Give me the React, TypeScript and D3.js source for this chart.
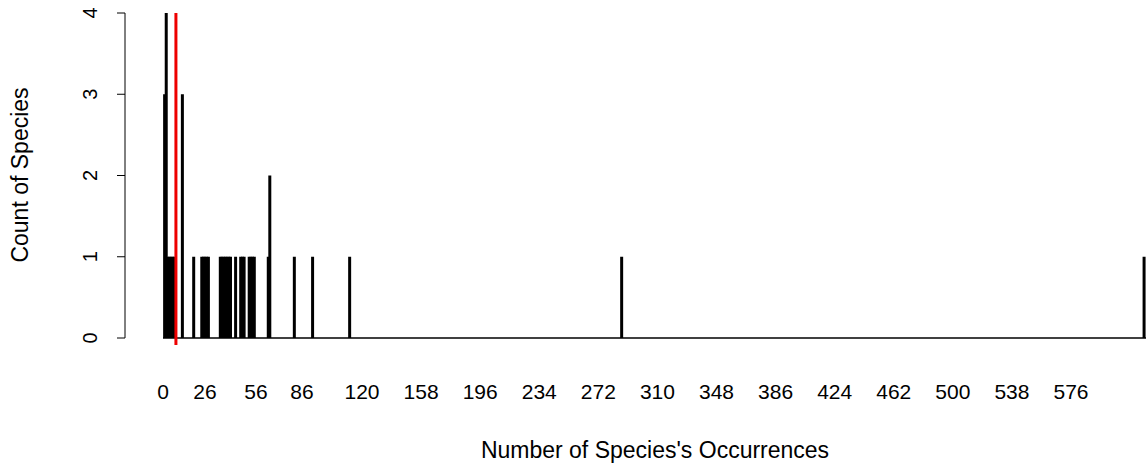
import * as d3 from "d3";

// occurrence value -> count of species
const occurrences = [1, 2, 3, 4, 5, 6, 7, 12, 19, 24, 25, 26, 27, 28, 35, 36, 37, 38, 39, 40, 41, 44, 47, 48, 49, 52, 53, 54, 55, 64, 65, 81, 92, 113, 287, 623];
const counts = [3, 4, 1, 1, 1, 1, 1, 3, 1, 1, 1, 1, 1, 1, 1, 1, 1, 1, 1, 1, 1, 1, 1, 1, 1, 1, 1, 1, 1, 1, 2, 1, 1, 1, 1, 1];
const tickLabels = [0, 26, 56, 86, 120, 158, 196, 234, 272, 310, 348, 386, 424, 462, 500, 538, 576];
const yTicks = [0, 1, 2, 3, 4];
const meanLine = 8;

const W = 1146;
const H = 465;

export default function App() {
  // axis is categorical in the original, so map with a piecewise scale
  const x = d3.scaleLinear().domain([0, 26, 56, 86, 120, 576]).range([163, 205, 256, 302, 362, 1071]);
  const y = d3.scaleLinear().domain([0, 4]).range([338, 13]);
  const font = "Liberation Sans, Arial, sans-serif";

  return (
    <svg width={W} height={H} style={{ position: "absolute", left: 0, top: 0, background: "#fff" }}>
      <line x1={x(0)} x2={W} y1={y(0)} y2={y(0)} stroke="#000" strokeWidth={1.5} />
      {occurrences.map((v, i) => (
        <line key={i} x1={x(v)} x2={x(v)} y1={y(0)} y2={y(counts[i])} stroke="#000" strokeWidth={3} />
      ))}
      <line x1={x(meanLine)} x2={x(meanLine)} y1={y(4)} y2={y(0) + 7} stroke="#e00" strokeWidth={3} />
      {/* y axis */}
      <line x1={125} x2={125} y1={y(0)} y2={y(4)} stroke="#000" />
      {yTicks.map((t) => (
        <g key={t}>
          <line x1={117} x2={125} y1={y(t)} y2={y(t)} stroke="#000" />
          <text transform={`translate(97,${y(t)}) rotate(-90)`} textAnchor="middle" fontFamily={font} fontSize={20} fill="#000">
            {t}
          </text>
        </g>
      ))}
      {tickLabels.map((t) => (
        <text key={t} x={x(t)} y={399} textAnchor="middle" fontFamily={font} fontSize={21} fill="#000">
          {t}
        </text>
      ))}
      <text x={655} y={458} textAnchor="middle" fontFamily={font} fontSize={23} fill="#000">
        Number of Species's Occurrences
      </text>
      <text transform={`translate(28,175) rotate(-90)`} textAnchor="middle" fontFamily={font} fontSize={23} fill="#000">
        Count of Species
      </text>
    </svg>
  );
}
